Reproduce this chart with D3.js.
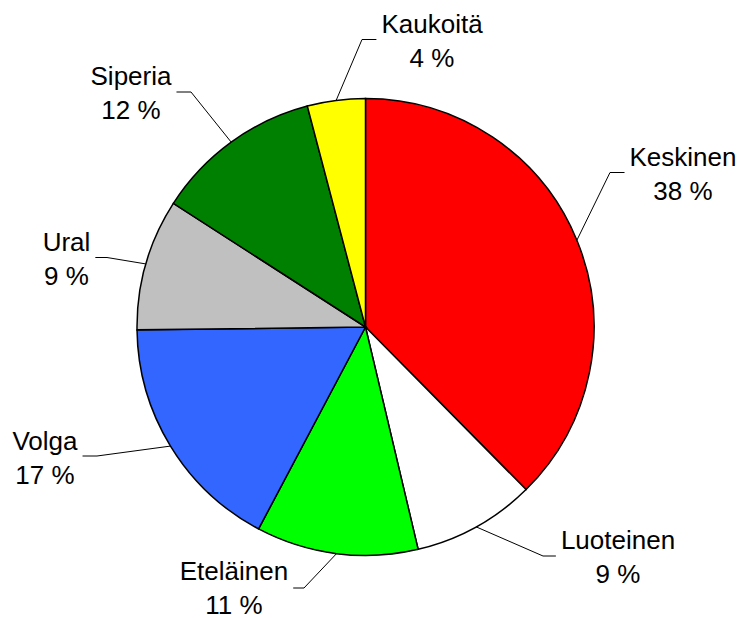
<!DOCTYPE html>
<html lang="fi">

<head>
  <meta charset="UTF-8">
  <title>Alueet</title>
  <script src="https://cdn.jsdelivr.net/npm/d3@7"></script>
  <style>
    body {
      margin: 0;
      background: #fff;
    }

    .arc path {
      stroke: #000;
      stroke-width: 1.5px;
    }

    .label text {
      font: 26px "Liberation Sans", Arial, sans-serif;
      text-anchor: middle;
      fill: #000;
    }

    .label path {
      fill: none;
      stroke: #000;
      stroke-width: 1px;
    }
  </style>
</head>

<body>
  <svg width="741" height="618"></svg>
  <script>
    // data
    const regions = ['Keskinen', 'Luoteinen', 'Eteläinen', 'Volga', 'Ural', 'Siperia', 'Kaukoitä'];
    const shares = [37.6, 8.7, 11.45, 17.05, 9.3, 11.8, 4.1];
    const colors = ['#ff0000', '#ffffff', '#00ff00', '#3366ff', '#c0c0c0', '#008000', '#ffff00'];

    // label layout: label block centre and leader elbow, same order as regions
    const labelCentre = [[683, 173], [618, 556], [234, 587], [45, 457], [66.5, 258], [131, 92], [432, 40]];
    const elbow = [[610, 172.5], [543, 556], [304, 588], [97, 456], [107, 257.5], [191, 92], [362, 39.5]];

    const svg = d3.select('svg');
    const cx = 365.5;
    const cy = 327;
    const r = 228.5;

    const color = d3.scaleOrdinal(regions, colors);

    const pie = d3.pie()
      .sort(null)
      .value(d => d.value);

    const arc = d3.arc()
      .innerRadius(0)
      .outerRadius(r);

    const data = regions.map((name, i) => ({ name, value: shares[i] }));

    const group = svg.append('g')
      .attr('transform', `translate(${cx},${cy})`);

    group.selectAll('.arc')
      .data(pie(data))
      .enter()
      .append('g')
      .attr('class', 'arc')
      .append('path')
      .attr('d', arc)
      .attr('fill', d => color(d.data.name));

    const labels = svg.selectAll('.label')
      .data(pie(data))
      .enter()
      .append('g')
      .attr('class', 'label');

    labels.each(function (d, i) {
      const g = d3.select(this);
      const [lx, ly] = labelCentre[i];
      const t = g.append('text');
      t.append('tspan').attr('x', lx).attr('y', ly - 7).text(d.data.name);
      t.append('tspan').attr('x', lx).attr('y', ly + 26.5).text(`${Math.round(d.data.value)} %`);

      const half = d3.max(t.selectAll('tspan').nodes(), n => n.getComputedTextLength()) / 2;
      const mid = (d.startAngle + d.endAngle) / 2;
      const p0 = [cx + r * Math.sin(mid), cy - r * Math.cos(mid)];
      const p1 = elbow[i];
      const right = p1[0] < lx;
      const p2 = [right ? lx - half - 5 : lx + half + 5, p1[1]];

      g.append('path')
        .attr('d', d3.line()([p0, p1, p2]));
    });
  </script>
</body>

</html>
